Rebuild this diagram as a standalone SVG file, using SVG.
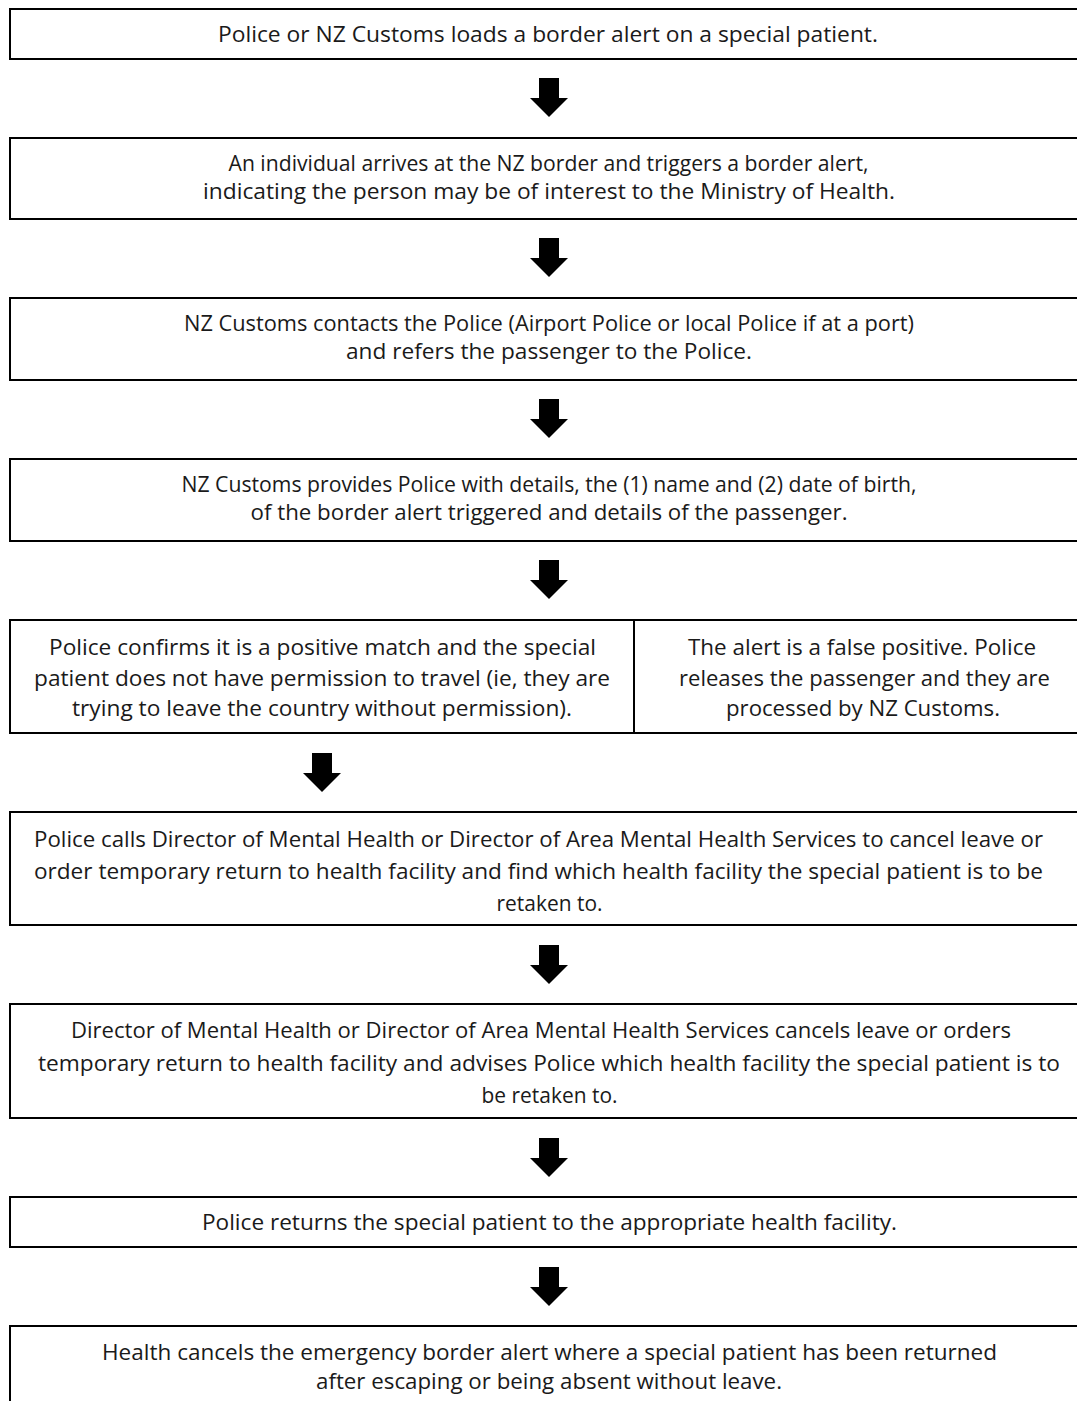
<svg xmlns="http://www.w3.org/2000/svg" width="1077" height="1401" viewBox="0 0 1077 1401">
<style>
.box{fill:#ffffff;stroke:#000000;stroke-width:2}
.t{font-family:"Open Sans","Noto Sans","Liberation Sans",sans-serif;font-size:22.4px;fill:#1a1a1a;text-anchor:middle}
.arr{fill:#000000}
</style>
<rect x="0" y="0" width="1077" height="1401" fill="#ffffff"/>
<g id="n1">
<rect class="box" x="10" y="9" width="1080" height="50"/>
<text class="t" x="548" y="42" textLength="660" lengthAdjust="spacingAndGlyphs">Police or NZ Customs loads a border alert on a special patient.</text>
</g>
<g id="n2">
<rect class="box" x="10" y="138" width="1080" height="81"/>
<text class="t" x="548.5" y="171" textLength="640" lengthAdjust="spacingAndGlyphs">An individual arrives at the NZ border and triggers a border alert,</text>
<text class="t" x="549" y="199" textLength="692" lengthAdjust="spacingAndGlyphs">indicating the person may be of interest to the Ministry of Health.</text>
</g>
<g id="n3">
<rect class="box" x="10" y="298" width="1080" height="82"/>
<text class="t" x="549" y="331" textLength="730" lengthAdjust="spacingAndGlyphs">NZ Customs contacts the Police (Airport Police or local Police if at a port)</text>
<text class="t" x="549" y="359" textLength="406" lengthAdjust="spacingAndGlyphs">and refers the passenger to the Police.</text>
</g>
<g id="n4">
<rect class="box" x="10" y="459" width="1080" height="82"/>
<text class="t" x="549" y="492" textLength="735" lengthAdjust="spacingAndGlyphs">NZ Customs provides Police with details, the (1) name and (2) date of birth,</text>
<text class="t" x="549" y="520" textLength="597" lengthAdjust="spacingAndGlyphs">of the border alert triggered and details of the passenger.</text>
</g>
<g id="n5a">
<rect class="box" x="10" y="620" width="624" height="113"/>
<text class="t" x="322.5" y="655" textLength="547" lengthAdjust="spacingAndGlyphs">Police confirms it is a positive match and the special</text>
<text class="t" x="322" y="686" textLength="576" lengthAdjust="spacingAndGlyphs">patient does not have permission to travel (ie, they are</text>
<text class="t" x="322" y="716" textLength="500" lengthAdjust="spacingAndGlyphs">trying to leave the country without permission).</text>
</g>
<g id="n5b">
<rect class="box" x="634" y="620" width="460" height="113"/>
<text class="t" x="862" y="655" textLength="348" lengthAdjust="spacingAndGlyphs">The alert is a false positive. Police</text>
<text class="t" x="864.5" y="686" textLength="371" lengthAdjust="spacingAndGlyphs">releases the passenger and they are</text>
<text class="t" x="863" y="716" textLength="274" lengthAdjust="spacingAndGlyphs">processed by NZ Customs.</text>
</g>
<g id="n6">
<rect class="box" x="10" y="812" width="1080" height="113"/>
<text class="t" x="538.5" y="847" textLength="1009" lengthAdjust="spacingAndGlyphs">Police calls Director of Mental Health or Director of Area Mental Health Services to cancel leave or</text>
<text class="t" x="538.5" y="879" textLength="1009" lengthAdjust="spacingAndGlyphs">order temporary return to health facility and find which health facility the special patient is to be</text>
<text class="t" x="549.5" y="911" textLength="106" lengthAdjust="spacingAndGlyphs">retaken to.</text>
</g>
<g id="n7">
<rect class="box" x="10" y="1004" width="1080" height="114"/>
<text class="t" x="541" y="1038" textLength="940" lengthAdjust="spacingAndGlyphs">Director of Mental Health or Director of Area Mental Health Services cancels leave or orders</text>
<text class="t" x="549" y="1071" textLength="1022" lengthAdjust="spacingAndGlyphs">temporary return to health facility and advises Police which health facility the special patient is to</text>
<text class="t" x="549.5" y="1103" textLength="136" lengthAdjust="spacingAndGlyphs">be retaken to.</text>
</g>
<g id="n8">
<rect class="box" x="10" y="1197" width="1080" height="50"/>
<text class="t" x="549.5" y="1230" textLength="695" lengthAdjust="spacingAndGlyphs">Police returns the special patient to the appropriate health facility.</text>
</g>
<g id="n9">
<rect class="box" x="10" y="1326" width="1080" height="120"/>
<text class="t" x="549.5" y="1360" textLength="895" lengthAdjust="spacingAndGlyphs">Health cancels the emergency border alert where a special patient has been returned</text>
<text class="t" x="549" y="1389" textLength="466" lengthAdjust="spacingAndGlyphs">after escaping or being absent without leave.</text>
</g>
<g id="connectors">
<defs><path id="a" d="M-10 0H10V20H19L0 39L-19 20H-10Z"/></defs>
<use href="#a" class="arr" x="549" y="78"/>
<use href="#a" class="arr" x="549" y="238"/>
<use href="#a" class="arr" x="549" y="399"/>
<use href="#a" class="arr" x="549" y="560"/>
<use href="#a" class="arr" x="322" y="753"/>
<use href="#a" class="arr" x="549" y="945"/>
<use href="#a" class="arr" x="549" y="1138"/>
<use href="#a" class="arr" x="549" y="1267"/>
</g>
</svg>
